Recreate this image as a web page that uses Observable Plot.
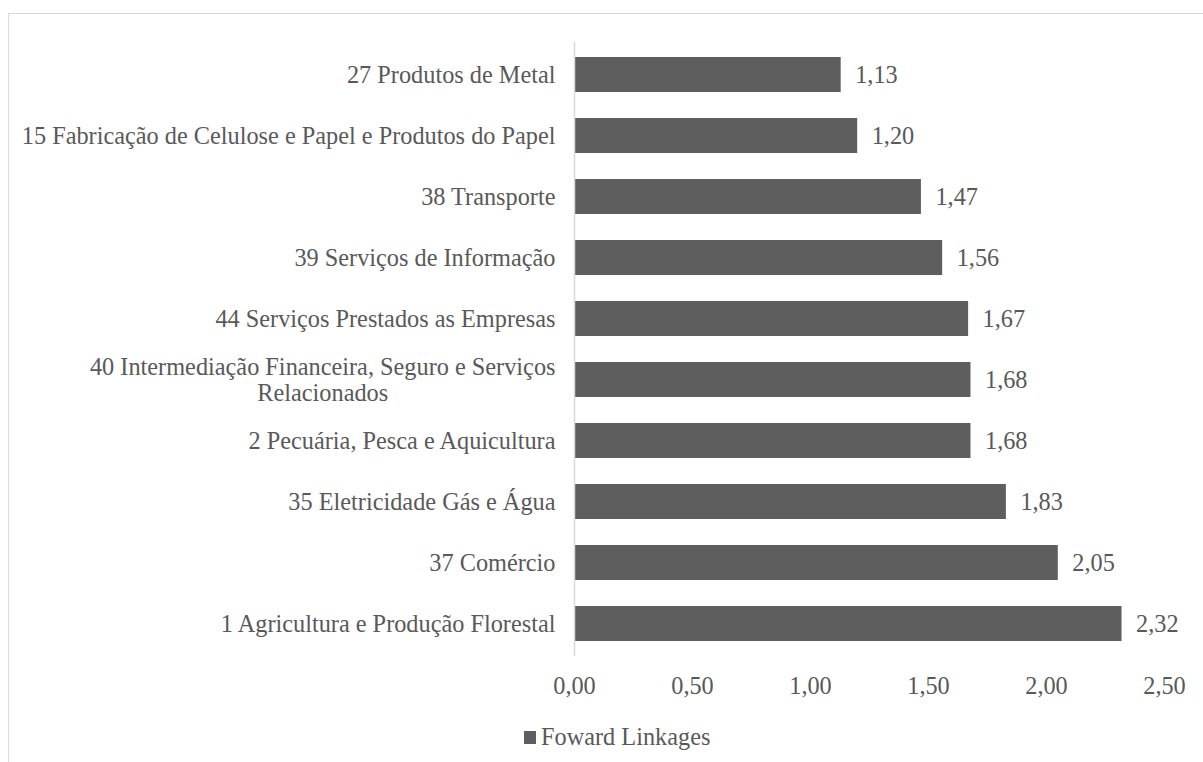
<!DOCTYPE html>
<html>
<head>
<meta charset="utf-8">
<script src="https://cdn.jsdelivr.net/npm/d3@7"></script>
<script src="https://cdn.jsdelivr.net/npm/@observablehq/plot@0.6"></script>
<style>
  html, body { margin: 0; padding: 0; background: #fff; overflow: hidden; width: 1203px; height: 762px; }
  #frame { position: absolute; left: 8px; top: 13px; width: 1300px; height: 900px; border-left: 1.5px solid #d9d9d9; border-top: 1.5px solid #d9d9d9; }
  #chart { position: absolute; left: 0; top: 0; }
  #legend { position: absolute; top: 724px; left: 524px; display: flex; align-items: center; line-height: 26px; color: #595959;
            font-family: "Liberation Serif", "Times New Roman", serif; font-size: 24.3px; }
  #legend .sw { width: 12px; height: 13px; background: #5e5e5e; margin-right: 5px; }
</style>
</head>
<body>
<div id="frame"></div>
<div id="chart"></div>
<div id="legend"><span class="sw"></span><span id="legendText"></span></div>
<script>
const categories = [
  "27 Produtos de Metal",
  "15 Fabricação de Celulose e Papel e Produtos do Papel",
  "38 Transporte",
  "39 Serviços de Informação",
  "44 Serviços Prestados as Empresas",
  "40 Intermediação Financeira, Seguro e Serviços\nRelacionados",
  "2 Pecuária, Pesca e Aquicultura",
  "35 Eletricidade Gás e Água",
  "37 Comércio",
  "1 Agricultura e Produção Florestal"
];
const values = [1.13, 1.20, 1.47, 1.56, 1.67, 1.68, 1.68, 1.83, 2.05, 2.32];
const xTicks = [0, 0.5, 1, 1.5, 2, 2.5];
const seriesName = "Foward Linkages";

const barColor = "#5e5e5e";
const textColor = "#595959";
const fontFamily = '"Liberation Serif", "Times New Roman", serif';
const fs = "24.3px";
const fmt = v => v.toFixed(2).replace(".", ",");

const data = categories.map((c, i) => ({category: c, value: values[i]}));

const chart = Plot.plot({
  width: 1203,
  height: 715,
  marginLeft: 574,
  marginRight: 39,
  marginTop: 42,
  marginBottom: 59,
  style: {fontFamily, fontSize: fs, color: textColor, background: "transparent", overflow: "visible"},
  x: {domain: [0, 2.5], label: null},
  y: {domain: categories, paddingInner: 0.43, paddingOuter: 0.215, label: null},
  marks: [
    Plot.barX(data, {x: "value", y: "category", fill: barColor}),
    Plot.ruleX([0], {stroke: "#d9d9d9", strokeWidth: 1.5}),
    Plot.text(data, {x: "value", y: "category", text: d => fmt(d.value), dx: 14, textAnchor: "start", fontSize: fs, fontFamily}),
    Plot.axisX({ticks: xTicks, tickFormat: fmt, tickSize: 0, tickPadding: 20, label: null, fontSize: fs, fontFamily}),
    Plot.axisY({tickSize: 0, tickPadding: 19, label: null, lineHeight: 1.05, fontSize: fs, fontFamily})
  ]
});
document.getElementById("chart").appendChild(chart);
document.getElementById("legendText").textContent = seriesName;

// center the wrapped second line of multi-line labels under the first line
chart.querySelectorAll("text").forEach(t => {
  const spans = t.querySelectorAll("tspan");
  if (spans.length > 1) {
    const w0 = spans[0].getComputedTextLength();
    for (let k = 1; k < spans.length; k++) {
      const wk = spans[k].getComputedTextLength();
      spans[k].setAttribute("x", -(w0 - wk) / 2);
    }
  }
});
</script>
</body>
</html>
